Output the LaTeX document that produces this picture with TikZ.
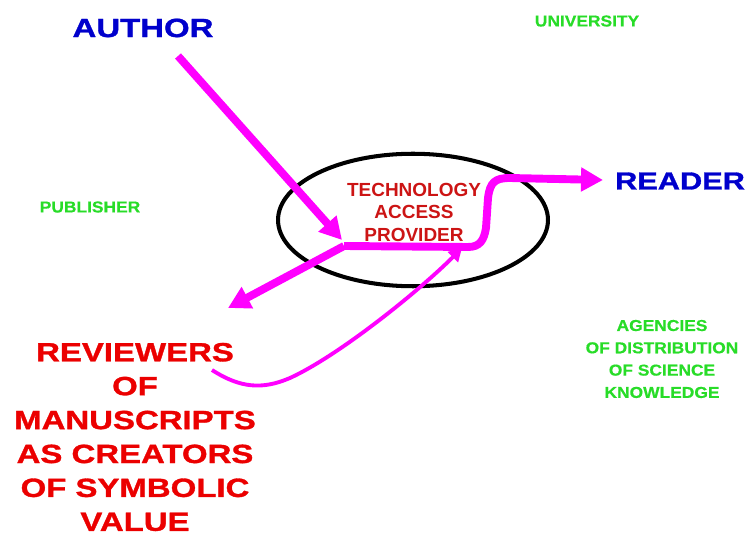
\documentclass[tikz,border=0pt]{standalone}
\usepackage{fontspec}
\setmainfont{Liberation Sans}
\newfontfamily\widesans[FakeStretch=1.25,BoldFeatures={FakeBold=1.2}]{Liberation Sans}
\newfontfamily\midsans[FakeStretch=1.1,BoldFeatures={FakeBold=0.6}]{Liberation Sans}
\usepackage{tikz}
\usetikzlibrary{calc,shapes,positioning}
\usetikzlibrary{arrows.meta}
\definecolor{actorblue}{RGB}{0,0,204}
\definecolor{placegreen}{RGB}{40,220,40}
\definecolor{revred}{RGB}{235,0,0}
\definecolor{hubred}{RGB}{204,20,20}
\definecolor{flowpink}{RGB}{255,0,255}

\begin{document}
\begin{tikzpicture}[x=0.02cm,y=-0.02cm]
      \tikzstyle{bignode} = [font=\widesans\bfseries\fontsize{15}{19.3}\selectfont, align=center, inner sep=0pt]
      \tikzstyle{smallnode} = [text=placegreen, font=\midsans\bfseries\fontsize{9}{12.7}\selectfont, align=center, inner sep=0pt]
      \tikzstyle{hubnode} = [draw=black, ellipse, line width=2.3pt, minimum width=5.4cm, minimum height=2.65cm]
      \tikzstyle{flow} = [draw=flowpink, line width=4.5pt, -{Triangle[length=0.44cm,width=0.46cm]}]
      \tikzstyle{thinflow} = [draw=flowpink, line width=2.2pt, -{Triangle[length=0.26cm,width=0.28cm]}]

      \useasboundingbox (0,0) rectangle (746,536);

      \node[hubnode] (hub) at (413,220) {};
      \node[text=hubred, font=\bfseries\fontsize{10.8}{12.8}\selectfont, align=center, inner sep=0pt] (tap) at (414,212) {TECHNOLOGY\\ACCESS\\PROVIDER};

      \node[bignode, text=actorblue] (author) at (143,28) {AUTHOR};
      \node[bignode, text=actorblue, font=\widesans\bfseries\fontsize{14}{18}\selectfont] (reader) at (680,181) {READER};
      \node[bignode, text=revred] (reviewers) at (135,437) {REVIEWERS\\OF\\MANUSCRIPTS\\AS CREATORS\\OF SYMBOLIC\\VALUE};

      \node[smallnode] (university) at (587,21) {UNIVERSITY};
      \node[smallnode] (publisher) at (90,207) {PUBLISHER};
      \node[smallnode] (agencies) at (662,359) {AGENCIES\\OF DISTRIBUTION\\OF SCIENCE\\KNOWLEDGE};

      \coordinate (authorout) at (178,56);
      \coordinate (authorin) at (342,240);
      \coordinate (junction) at (344,246);
      \coordinate (revin) at (228,308);
      \coordinate (readerin) at (603,180);
      \coordinate (revout) at (212,370);
      \coordinate (hubin) at (462,248);

      \draw[flow] (junction) -- (468,247) .. controls (480,247) and (484,240) .. (486,228)
            -- (488,198) .. controls (490,182) and (495,178) .. (510,178) -- (readerin);
      \draw[flow] (junction) -- (revin);
      \draw[flow] (authorout) -- (authorin);
      \draw[thinflow] (revout) .. controls (240,388) and (262,390) .. (290,378)
            .. controls (340,355) and (420,290) .. (hubin);
\end{tikzpicture}
\end{document}
